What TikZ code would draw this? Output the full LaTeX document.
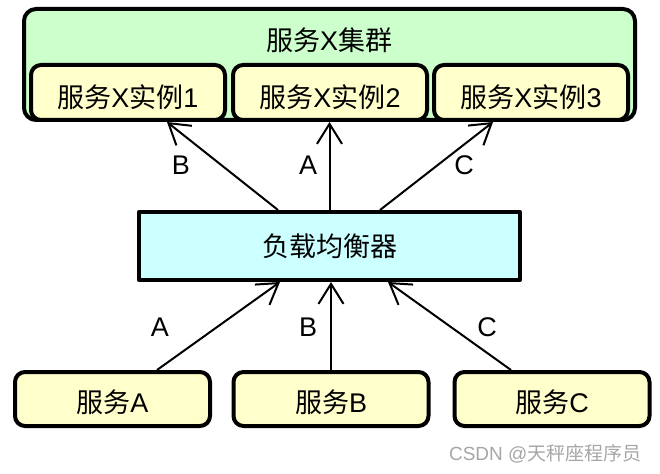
\documentclass[tikz,border=0pt]{standalone}
\usepackage{fontspec}
\setmainfont{Liberation Sans}
\newfontfamily\cjk{Noto Sans CJK SC}
\usetikzlibrary{arrows.meta}
\newcommand\zhtext[1]{{\cjk #1}}
\definecolor{clusterfill}{HTML}{CCFFCC}
\definecolor{instfill}{HTML}{FFFFCC}
\definecolor{lbfill}{HTML}{CCFFFF}
\begin{document}
\begin{tikzpicture}[x=1pt,y=-1pt,line join=round,font=\fontsize{27}{31}\selectfont,
    box/.style={draw,line width=4pt,rounded corners=10pt,inner sep=0pt},
    inst/.style={box,fill=instfill,minimum width=194pt,minimum height=55pt,text height=30pt,text depth=0pt},
    svc/.style={box,fill=instfill,minimum width=195pt,minimum height=54pt,text height=27pt,text depth=0pt},
    flow/.style={line width=2pt,-{Straight Barb[length=20pt,width=25pt]}}]
    \useasboundingbox (0,0) rectangle (660,473);
    % cluster of service X
    \node[box,fill=clusterfill,rounded corners=12pt,minimum width=611pt,minimum height=111pt] (cluster) at (329.5,64.5) {};
    \node (title) at (329,40) {\zhtext{服务}X\zhtext{集群}};
    \node[inst] (inst1) at (128,92.5) {\zhtext{服务}X\zhtext{实例}1};
    \node[inst] (inst2) at (330,92.5) {\zhtext{服务}X\zhtext{实例}2};
    \node[inst] (inst3) at (531,92.5) {\zhtext{服务}X\zhtext{实例}3};
    % load balancer
    \node[box,rounded corners=0pt,fill=lbfill,minimum width=381pt,minimum height=68pt] (lb) at (329.5,246) {\zhtext{负载均衡器}};
    % callers
    \node[svc] (svcA) at (112.5,399) {\zhtext{服务}A};
    \node[svc] (svcB) at (331,399) {\zhtext{服务}B};
    \node[svc] (svcC) at (552,399) {\zhtext{服务}C};
    % requests into the balancer
    \draw[flow] ([xshift=44.5pt]svcA.north) -- ([xshift=-49.5pt]lb.south);
    \draw[flow] (svcB.north) -- (svcB.north |- lb.south);
    \draw[flow] ([xshift=-41pt]svcC.north) -- ([xshift=58.5pt]lb.south);
    \node (inA) at (160,327) {A};
    \node (inB) at (308,327) {B};
    \node (inC) at (487,327) {C};
    % forwarded to the instances
    \draw[flow] ([xshift=-51.5pt]lb.north) -- ([xshift=39pt]inst1.south);
    \draw[flow] (lb.north) -- (lb.north |- inst2.south);
    \draw[flow] ([xshift=50.5pt]lb.north) -- ([xshift=-38pt]inst3.south);
    \node (outB) at (181,165) {B};
    \node (outA) at (308,165) {A};
    \node (outC) at (464,165) {C};
    \node[anchor=east,text=gray!70,font=\fontsize{19}{21}\selectfont] (mark) at (645,454) {CSDN @\zhtext{天秤座程序员}};
\end{tikzpicture}
\end{document}
